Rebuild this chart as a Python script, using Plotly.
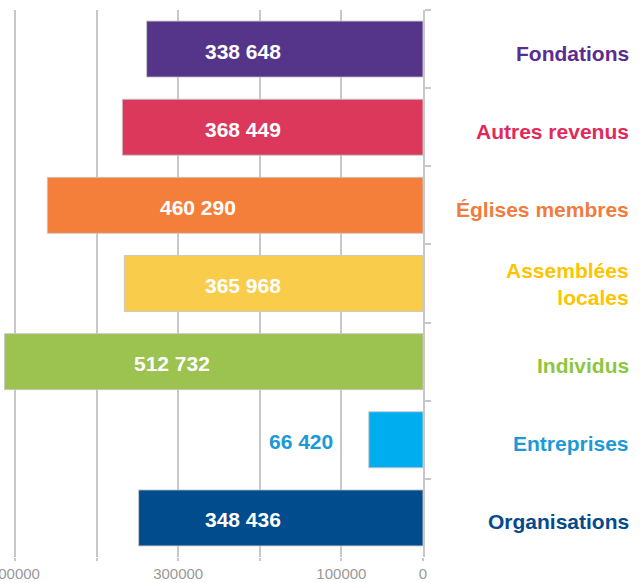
import plotly.graph_objects as go

# data, top to bottom
categories = ["Fondations", "Autres revenus", "Églises membres", "Assemblées locales",
              "Individus", "Entreprises", "Organisations"]
label_text = ["Fondations", "Autres revenus", "Églises membres", "Assemblées<br>locales",
              "Individus", "Entreprises", "Organisations"]
values = [338648, 368449, 460290, 365968, 512732, 66420, 348436]
value_labels = ["338 648", "368 449", "460 290", "365 968", "512 732", "66 420", "348 436"]
tick_vals = [0, 100000, 200000, 300000, 400000, 500000]
tick_text = ["0", "100000", "", "300000", "", "500000"]

bar_colors = ["#553589", "#dc385b", "#f47f3b", "#f9cc4b", "#9cc24f", "#00aeef", "#004c8d"]
text_colors = ["#5c2d91", "#e02a5b", "#f07c3e", "#fdc400", "#8dc63f", "#1b9ad6", "#064a8c"]

FONT = "Liberation Sans, Arial, Helvetica, sans-serif"
GRID = "#c8c8c8"

fig = go.Figure()

fig.add_trace(go.Bar(
    x=values,
    y=categories,
    orientation="h",
    marker=dict(color=bar_colors, line=dict(color="rgba(200,200,200,0.9)", width=1)),
    hoverinfo="x+y",
    showlegend=False,
))

# value labels: inside the bar when it is long enough, else to its left on white
for cat, v, lab, tc in zip(categories, values, value_labels, text_colors):
    if v > 150000:
        fig.add_annotation(
            x=max(v * 0.6, 221000), y=cat, xref="x", yref="y",
            text=f"<b>{lab}</b>", showarrow=False, yshift=-2,
            font=dict(family=FONT, size=21, color="white"),
        )
    else:
        fig.add_annotation(
            x=v + 83000, y=cat, xref="x", yref="y",
            text=f"<b>{lab}</b>", showarrow=False, yshift=-2,
            bgcolor="white", borderpad=2,
            font=dict(family=FONT, size=21, color=tc),
        )

# category names on the right, in their colour
for cat, lab, tc in zip(categories, label_text, text_colors):
    fig.add_annotation(
        x=631 / 423, y=cat, xref="paper", yref="y",
        xanchor="right", align="right",
        yshift=0 if "<br>" in lab else -4,
        text=f"<b>{lab}</b>", showarrow=False,
        font=dict(family=FONT, size=21, color=tc),
    )

fig.update_layout(
    width=644,
    height=583,
    paper_bgcolor="white",
    plot_bgcolor="white",
    margin=dict(l=0, r=221, t=10, b=26, autoexpand=False),
    bargap=0.283,
    font=dict(family=FONT),
    xaxis=dict(
        range=[518300, 0],
        tickvals=tick_vals,
        ticktext=tick_text,
        ticklabeloverflow="allow",
        automargin=False,
        showgrid=True,
        gridcolor=GRID,
        gridwidth=2,
        zeroline=False,
        ticks="outside",
        ticklen=3,
        tickwidth=2,
        tickcolor=GRID,
        tickfont=dict(family=FONT, size=15, color="#999999"),
        fixedrange=True,
    ),
    yaxis=dict(
        categoryorder="array",
        categoryarray=categories,
        autorange="reversed",
        side="right",
        automargin=False,
        showline=True,
        linecolor=GRID,
        linewidth=2,
        ticks="outside",
        tickson="boundaries",
        ticklen=6,
        tickwidth=2,
        tickcolor=GRID,
        showticklabels=False,
        showgrid=False,
        zeroline=False,
        fixedrange=True,
    ),
)

# drop the default page margin so the figure sits at the window's corner
fig.write_html("out.html", config={"displayModeBar": False},
               post_script="document.body.style.margin='0';")
